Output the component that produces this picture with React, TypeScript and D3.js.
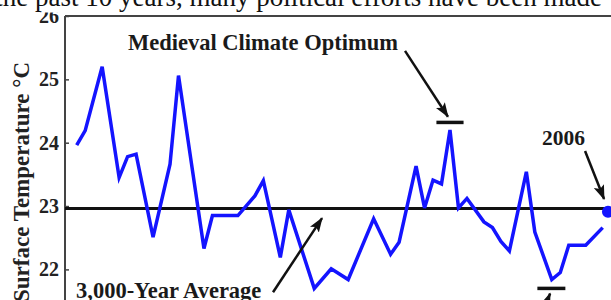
import React, { useRef, useEffect } from 'react';
import * as d3 from 'd3';

// Sargasso Sea surface temperature reconstruction (visible vertices only)
const years = [-1125, -1075, -975, -875, -825, -775, -675, -575, -525, -375, -325, -175, -75, -25, 75, 125, 275, 375, 475, 625,
  725, 775, 875, 925, 975, 1025, 1075, 1125, 1175, 1275, 1325, 1375, 1425, 1525, 1575, 1675, 1725, 1775, 1875, 1975];
const temps = [23.96, 24.19, 25.2, 23.45, 23.78, 23.82, 22.51, 23.66, 25.06, 22.33, 22.85, 22.85, 23.16, 23.4, 22.19, 22.94, 21.7, 22.01, 21.84, 22.8,
  22.24, 22.43, 23.63, 22.97, 23.41, 23.35, 24.2, 22.97, 23.12, 22.75, 22.66, 22.44, 22.29, 23.54, 22.59, 21.84, 21.95, 22.38, 22.38, 22.66];
const yTicks = [22, 23, 24, 25, 26];
const average = 22.96;
const latestYear = 2006;
const latestTemp = 22.91;

// annotation bars and arrows, in [year, temp]
const bars = [
  [[995, 24.32], [1155, 24.32]],
  [[1590, 21.7], [1755, 21.7]],
];
const arrows = [
  [[810, 25.45], [1063, 24.41]],
  [[1871, 23.87], [1983, 23.11]],
  [[32, 21.64], [321, 22.81]],
  [[1580, 21.04], [1665, 21.62]],
];

const W = 611;
const H = 300;
const serif = "'Liberation Serif', 'Times New Roman', serif";

const App = () => {
  const svgRef = useRef<SVGSVGElement>(null);

  useEffect(() => {
    const svg = d3.select(svgRef.current);
    svg.selectAll('*').remove();

    const x = d3.scaleLinear().domain([-1125, 1975]).range([76.7, 602.7]);
    const y = d3.scaleLinear().domain([22, 26]).range([269.4, 16]);
    const left = 65;

    svg.append('defs').append('marker')
      .attr('id', 'head')
      .attr('markerUnits', 'userSpaceOnUse')
      .attr('viewBox', '0 0 14 10')
      .attr('refX', 13).attr('refY', 5)
      .attr('markerWidth', 15).attr('markerHeight', 11)
      .attr('orient', 'auto')
      .append('path').attr('d', 'M0,0 L14,5 L0,10 L3,5 Z').attr('fill', '#111');

    // frame
    svg.append('line').attr('x1', left).attr('x2', W).attr('y1', y(26)).attr('y2', y(26))
      .attr('stroke', '#444').attr('stroke-width', 2);
    svg.append('line').attr('x1', left).attr('x2', left).attr('y1', y(26)).attr('y2', H)
      .attr('stroke', '#444').attr('stroke-width', 2);

    const yAxis = svg.append('g')
      .attr('transform', `translate(${left},0)`)
      .call(d3.axisLeft(y).tickValues(yTicks).tickSizeInner(-4).tickSizeOuter(0).tickPadding(6).tickFormat(d3.format('d')));
    yAxis.select('.domain').remove();
    yAxis.selectAll('line').attr('stroke', '#444').attr('stroke-width', 1.5);
    yAxis.selectAll('text')
      .attr('font-family', serif).attr('font-weight', 'bold').attr('font-size', 20).attr('fill', '#222');

    // 3000-year average
    svg.append('line').attr('x1', left).attr('x2', W).attr('y1', y(average)).attr('y2', y(average))
      .attr('stroke', '#111').attr('stroke-width', 3);

    const line = d3.line<number>().x((d, i) => x(years[i])).y(d => y(d));
    svg.append('path').datum(temps).attr('d', line)
      .attr('fill', 'none').attr('stroke', '#1414ff').attr('stroke-width', 3.5).attr('stroke-linejoin', 'miter');

    svg.append('circle').attr('cx', x(latestYear)).attr('cy', y(latestTemp)).attr('r', 6).attr('fill', '#1414ff');

    bars.forEach(b => {
      svg.append('line').attr('x1', x(b[0][0])).attr('x2', x(b[1][0])).attr('y1', y(b[0][1])).attr('y2', y(b[1][1]))
        .attr('stroke', '#111').attr('stroke-width', 3.5);
    });
    arrows.forEach(a => {
      svg.append('line').attr('x1', x(a[0][0])).attr('y1', y(a[0][1])).attr('x2', x(a[1][0])).attr('y2', y(a[1][1]))
        .attr('stroke', '#111').attr('stroke-width', 2.5).attr('marker-end', 'url(#head)');
    });

    const label = (t: string, tx: number, ty: number, size: number) =>
      svg.append('text').attr('x', tx).attr('y', ty).text(t)
        .attr('font-family', serif).attr('font-weight', 'bold').attr('font-size', size).attr('fill', '#1a1a1a');
    label('Medieval Climate Optimum', 128, 50, 22.5);
    label('2006', 542, 144.5, 21.5);
    label('3,000-Year Average', 76, 298, 22.5);

    svg.append('text')
      .attr('transform', 'translate(29,62) rotate(-90)')
      .attr('text-anchor', 'end')
      .attr('font-family', serif).attr('font-weight', 'bold').attr('font-size', 23).attr('fill', '#222')
      .text('Surface Temperature °C');

    // page text cut off above the figure
    svg.append('rect').attr('x', 0).attr('y', 0).attr('width', W).attr('height', 12.5).attr('fill', '#fff');
    svg.append('text').attr('x', 602).attr('y', 6).attr('text-anchor', 'end')
      .attr('font-family', serif).attr('font-size', 27).attr('fill', '#111')
      .text('the past 10 years, many political efforts have been made');
  }, []);

  return (
    <div style={{ position: 'fixed', left: 0, top: 0, background: '#fff' }}>
      <svg ref={svgRef} width={W} height={H} style={{ display: 'block' }}></svg>
    </div>
  );
};

export default App;
